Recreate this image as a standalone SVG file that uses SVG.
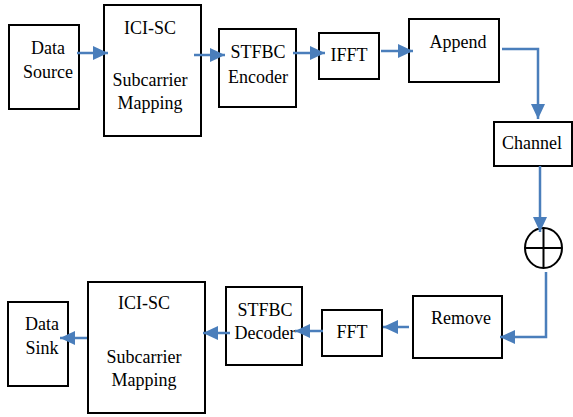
<svg xmlns="http://www.w3.org/2000/svg" width="573" height="417" viewBox="0 0 573 417">
<style>
.box{fill:#fff;stroke:#000;stroke-width:2}
.t{font-family:"Liberation Serif","Times New Roman",serif;font-size:18px;fill:#000;text-anchor:middle}
.c{fill:none;stroke:#4a7ebb;stroke-width:2.5}
</style>
<defs>
<marker id="ah" markerUnits="userSpaceOnUse" markerWidth="16" markerHeight="14" refX="15" refY="7" orient="auto">
<path d="M0,0 L15,7 L0,14 Z" fill="#4a7ebb"/>
</marker>
</defs>
<rect width="573" height="417" fill="#fff"/>
<g id="data-source"><rect class="box" x="9" y="25" width="70" height="84"/><text class="t" x="48" y="54">Data</text><text class="t" x="48" y="78">Source</text></g>
<g id="ici-sc-tx"><rect class="box" x="104" y="5" width="97" height="131"/><text class="t" x="150" y="34">ICI-SC</text><text class="t" x="150" y="86">Subcarrier</text><text class="t" x="150" y="109">Mapping</text></g>
<g id="stfbc-enc"><rect class="box" x="219" y="29" width="77" height="78"/><text class="t" x="258" y="58">STFBC</text><text class="t" x="258" y="83">Encoder</text></g>
<g id="ifft"><rect class="box" x="319" y="33" width="60" height="46"/><text class="t" x="349" y="61">IFFT</text></g>
<g id="append"><rect class="box" x="409" y="19" width="90" height="63"/><text class="t" x="458" y="48">Append</text></g>
<g id="channel"><rect class="box" x="494" y="122" width="78" height="44"/><text class="t" x="532" y="149">Channel</text></g>
<g id="adder"><ellipse cx="543.5" cy="248" rx="18.5" ry="20" fill="#fff" stroke="#000" stroke-width="2"/><line x1="525" y1="248" x2="562" y2="248" stroke="#000" stroke-width="2"/><line x1="543.5" y1="228" x2="543.5" y2="268" stroke="#000" stroke-width="2"/></g>
<g id="remove"><rect class="box" x="413" y="296" width="89" height="62"/><text class="t" x="461" y="324">Remove</text></g>
<g id="fft"><rect class="box" x="322" y="310" width="60" height="46"/><text class="t" x="352" y="338">FFT</text></g>
<g id="stfbc-dec"><rect class="box" x="226" y="287" width="76" height="78"/><text class="t" x="265" y="316">STFBC</text><text class="t" x="265" y="339">Decoder</text></g>
<g id="ici-sc-rx"><rect class="box" x="88" y="282" width="117" height="131"/><text class="t" x="144" y="309">ICI-SC</text><text class="t" x="144" y="363">Subcarrier</text><text class="t" x="144" y="386">Mapping</text></g>
<g id="data-sink"><rect class="box" x="8" y="302" width="60" height="84"/><text class="t" x="42" y="330">Data</text><text class="t" x="42" y="354">Sink</text></g>
<g id="connectors">
<line class="c" x1="77" y1="53" x2="108" y2="53" marker-end="url(#ah)"/>
<line class="c" x1="194" y1="55" x2="225" y2="55" marker-end="url(#ah)"/>
<line class="c" x1="293" y1="53" x2="325" y2="53" marker-end="url(#ah)"/>
<line class="c" x1="381" y1="51" x2="413" y2="51" marker-end="url(#ah)"/>
<polyline class="c" points="502,49 538,49 538,119" marker-end="url(#ah)"/>
<line class="c" x1="540" y1="166" x2="540" y2="232" marker-end="url(#ah)"/>
<polyline class="c" points="546,272 546,337 500,337" marker-end="url(#ah)"/>
<line class="c" x1="409" y1="327" x2="383" y2="327" marker-end="url(#ah)"/>
<line class="c" x1="323" y1="331" x2="295" y2="331" marker-end="url(#ah)"/>
<line class="c" x1="230" y1="333" x2="203" y2="333" marker-end="url(#ah)"/>
<line class="c" x1="87" y1="338" x2="60" y2="338" marker-end="url(#ah)"/>
</g>
</svg>
